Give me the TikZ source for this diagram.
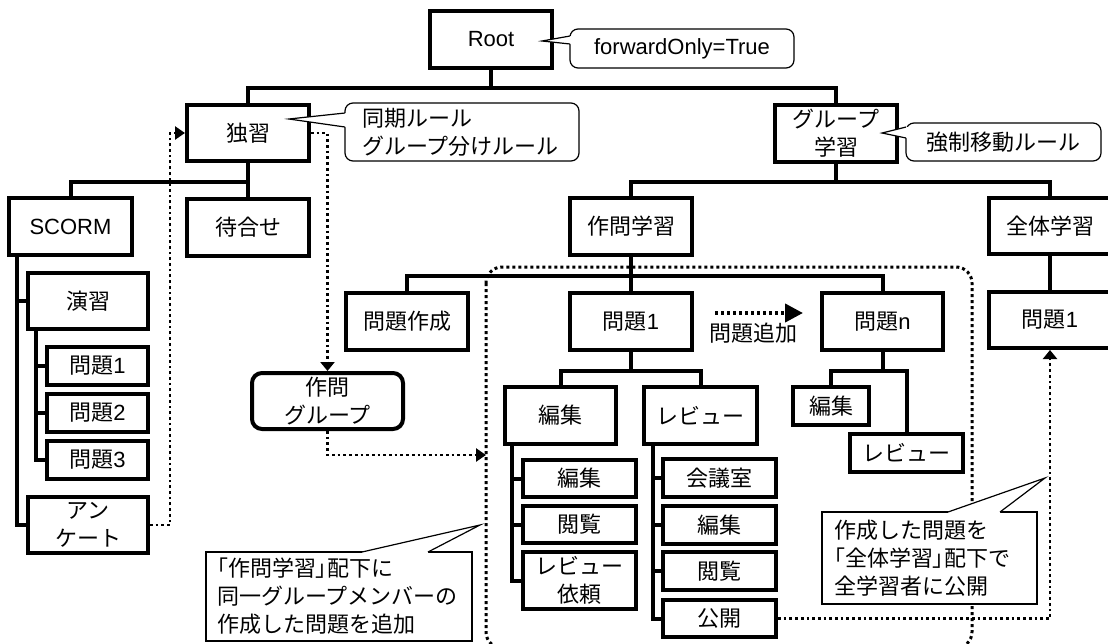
\documentclass[tikz,border=0pt]{standalone}
\usepackage{fontspec}
\setmainfont{Liberation Sans}
\newfontfamily\jp{Noto Sans CJK JP}
\newfontfamily\jpp[RawFeature=+palt]{Noto Sans CJK JP}
\newfontfamily\lat{Liberation Sans}
\usetikzlibrary{arrows.meta}
\newcommand\fs{\fontsize{22}{28}\selectfont}
\newcommand\ptr[5]{%
  \fill[white] #2 -- #1 -- #3 -- #5 -- #4 -- cycle;
  \draw[callout] #2 -- #1 -- #3;}
\begin{document}
\begin{tikzpicture}[x=1pt,y=-1pt,
  box/.style={draw, line width=4pt, inner sep=0pt, align=center, font=\fs\jp, fill=white},
  tree/.style={line width=4pt},
  dots/.style={line width=2.7pt, dash pattern=on 2.7pt off 3pt},
  tipA/.style={-{Triangle[length=10pt,width=13pt]}},
  callout/.style={line width=1.2pt},
  cbox/.style={draw, line width=1.2pt, fill=white, inner ysep=0pt, font=\fs\jp},
]
\useasboundingbox (0,0) rectangle (1108,643);

% dotted boundary of the group area
\draw[line width=3pt, dash pattern=on 3pt off 3pt, rounded corners=16pt] (486,267) rectangle (972,648);

% boxes
\node[box, minimum width=122pt, minimum height=57pt] (root) at (491,39.5) {{\lat Root}};
\node[box, minimum width=122pt, minimum height=56pt] (dokushu) at (248,133) {独習};
\node[box, minimum width=122pt, minimum height=57pt] (group) at (836,133.5) {グループ\\学習};
\node[box, minimum width=123pt, minimum height=57pt] (scorm) at (70.5,226.5) {{\lat SCORM}};
\node[box, minimum width=122pt, minimum height=57pt] (machi) at (248,227.5) {待合せ};
\node[box, minimum width=122pt, minimum height=57pt] (sakumon) at (631,226.5) {作問学習};
\node[box, minimum width=122pt, minimum height=56pt] (zentai) at (1050,226) {全体学習};
\node[box, minimum width=120pt, minimum height=56pt] (enshu) at (88,301) {演習};
\node[box, minimum width=101pt, minimum height=38pt] (q1L) at (97.5,366) {問題{\lat 1}};
\node[box, minimum width=101pt, minimum height=38pt] (q2L) at (97.5,413) {問題{\lat 2}};
\node[box, minimum width=101pt, minimum height=38pt] (q3L) at (97.5,460) {問題{\lat 3}};
\node[box, minimum width=120pt, minimum height=56pt] (enq) at (88,525) {アン\\ケート};
\node[box, minimum width=122pt, minimum height=57pt] (mondai) at (407,321.5) {問題作成};
\node[box, minimum width=122pt, minimum height=57pt] (q1) at (631,321.5) {問題{\lat 1}};
\node[box, minimum width=121pt, minimum height=57pt] (qn) at (882.5,321.5) {問題{\lat n}};
\node[box, minimum width=122pt, minimum height=56pt] (q1R) at (1050,320) {問題{\lat 1}};
\node[box, rounded corners=10pt, minimum width=151pt, minimum height=56pt] (sgroup) at (327.5,401) {作問\\グループ};
\node[box, minimum width=111pt, minimum height=57pt] (edit) at (560.5,415.5) {編集};
\node[box, minimum width=113pt, minimum height=57pt] (review) at (700.5,415.5) {レビュー};
\node[box, minimum width=76pt, minimum height=38pt] (editN) at (831,406) {編集};
\node[box, minimum width=113pt, minimum height=38pt] (reviewN) at (906.5,453) {レビュー};
\node[box, minimum width=113pt, minimum height=37pt] (e1) at (579.5,478.5) {編集};
\node[box, minimum width=113pt, minimum height=37pt] (e2) at (579.5,524.5) {閲覧};
\node[box, minimum width=113pt, minimum height=57pt] (e3) at (579.5,580.5) {レビュー\\依頼};
\node[box, minimum width=113pt, minimum height=38pt] (r1) at (719.5,478) {会議室};
\node[box, minimum width=113pt, minimum height=38pt] (r2) at (719.5,525) {編集};
\node[box, minimum width=113pt, minimum height=38pt] (r3) at (719.5,571) {閲覧};
\node[box, minimum width=113pt, minimum height=37pt] (r4) at (719.5,618.5) {公開};

% tree connectors
\draw[tree] (root.south) -- ++(0,18) coordinate (rj) -| (dokushu.north);
\draw[tree] (rj) -| (group.north);
\draw[tree] (dokushu.south) -- ++(0,19) coordinate (dj) -| (scorm.north);
\draw[tree] (dj) -- (machi.north);
\draw[tree] (group.south) -- ++(0,18) coordinate (gj) -| (sakumon.north);
\draw[tree] (gj) -| (zentai.north);
\draw[tree] ([xshift=10pt]scorm.south west) |- (enshu.west);
\draw[tree] ([xshift=10pt]scorm.south west) |- (enq.west);
\draw[tree] ([xshift=10pt]enshu.south west) |- (q1L.west);
\draw[tree] ([xshift=10pt]enshu.south west) |- (q2L.west);
\draw[tree] ([xshift=10pt]enshu.south west) |- (q3L.west);
\draw[tree] (sakumon.south) -- ++(0,19) coordinate (sj) -| (mondai.north);
\draw[tree] (sj) -- (q1.north);
\draw[tree] (sj) -| (qn.north);
\draw[tree] (zentai.south) -- (q1R.north);
\draw[tree] (q1.south) -- ++(0,19) coordinate (qj) -| (edit.north);
\draw[tree] (qj) -| (review.north);
\draw[tree] (qn.south) -- ++(0,19) coordinate (nj) -| (editN.north);
\draw[tree] (nj) -| (reviewN.north);
\draw[tree] ([xshift=9pt]edit.south west) |- (e1.west);
\draw[tree] ([xshift=9pt]edit.south west) |- (e2.west);
\draw[tree] ([xshift=9pt]edit.south west) |- (e3.west);
\draw[tree] ([xshift=11pt]review.south west) |- (r1.west);
\draw[tree] ([xshift=11pt]review.south west) |- (r2.west);
\draw[tree] ([xshift=11pt]review.south west) |- (r3.west);
\draw[tree] ([xshift=11pt]review.south west) |- (r4.west);

% dotted arrows
\draw[dots, tipA] (enq.east) -- ++(20,0) |- (dokushu.west);
\draw[dots, -{Triangle[length=9pt,width=14pt]}] (dokushu.east) -| (sgroup.north);
\coordinate (bL) at (486,455);
\draw[dots, tipA] (sgroup.south) |- (bL);
\draw[dots, -{Triangle[length=9pt,width=14pt]}] (r4.east) -| (q1R.south);
\coordinate (a1) at (715,313);
\coordinate (a2) at (803,313);
\draw[line width=4pt, dash pattern=on 3pt off 3pt, -{Triangle[length=18pt,width=18pt]}] (a1) -- (a2);
\node[font=\fs\jp, inner sep=0pt] (addlbl) at (753.5,333) {問題追加};

% callouts
\node[cbox, rounded corners=8pt, minimum width=224pt, minimum height=39pt] (c1) at (682,48.5) {{\lat forwardOnly=True}};
\ptr{(542,41)}{(570,36)}{(570,44)}{(574,36)}{(574,44)}
\node[cbox, rounded corners=8pt, minimum width=234pt, minimum height=58pt, text width=200pt, inner xsep=17pt, align=left] (c2) at (462,132) {同期ルール\\グループ分けルール};
\ptr{(289,119)}{(345,113)}{(345,127)}{(349,113)}{(349,127)}
\node[cbox, rounded corners=8pt, minimum width=195pt, minimum height=38pt] (c3) at (1003.5,142) {強制移動ルール};
\ptr{(882,133)}{(906,127)}{(906,138)}{(910,127)}{(910,138)}
\node[cbox, minimum width=266pt, minimum height=89pt, text width=244pt, inner xsep=11pt, align=left] (c4) at (339,596.5) {{\jpp 「}作問学習{\jpp 」}配下に\\同一グループメンバーの\\作成した問題を追加};
\ptr{(480,525)}{(362,552)}{(428,552)}{(362,556)}{(428,556)}
\node[cbox, minimum width=215pt, minimum height=92pt, text width=191pt, inner xsep=12pt, align=left] (c5) at (929.5,558) {作成した問題を\\{\jpp 「}全体学習{\jpp 」}配下で\\全学習者に公開};
\ptr{(1045,478)}{(948,512)}{(1000,512)}{(948,516)}{(1000,516)}
\end{tikzpicture}
\end{document}
